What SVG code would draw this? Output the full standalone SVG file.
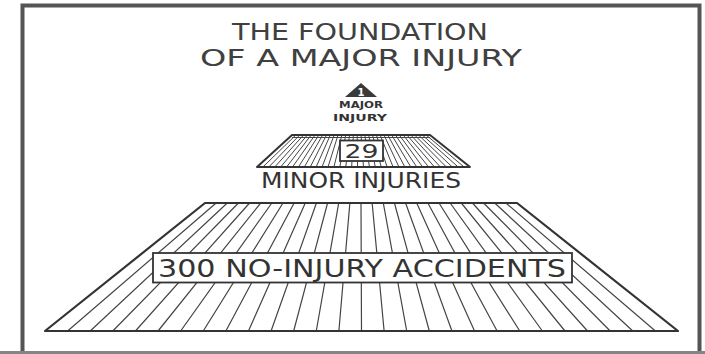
<svg xmlns="http://www.w3.org/2000/svg" width="705" height="354" viewBox="0 0 705 354">
<style>
.ink{fill:none;stroke:#333;stroke-linecap:round;stroke-linejoin:round}
.hatch{fill:none;stroke:#444;stroke-width:1.2}
.hatch2{fill:none;stroke:#444;stroke-width:1}
.lbl{font-family:"DejaVu Sans","Liberation Sans",sans-serif;fill:#333;text-anchor:middle}
.ttl{font-family:"DejaVu Sans","Liberation Sans",sans-serif;fill:#404040;text-anchor:middle;font-size:23px}
.box{fill:#fff;stroke:#333;stroke-width:1.8}
</style>
<rect width="705" height="354" fill="#fff"/>
<g id="frame">
<path d="M22.5,351 V5.5 H699.5 V351" fill="none" stroke="#555" stroke-width="4"/>
<rect x="0" y="351" width="705" height="3" fill="#858585"/>
</g>
<g id="title">
<text class="ttl" x="360" y="40" textLength="256" lengthAdjust="spacingAndGlyphs">THE FOUNDATION</text>
<text class="ttl" x="361" y="66" textLength="322" lengthAdjust="spacingAndGlyphs">OF A MAJOR INJURY</text>
</g>
<g id="node-major">
<polygon points="361,83 345,97 377,97" fill="#3a3a3a"/>
<text x="361" y="96" font-family="DejaVu Sans,sans-serif" font-size="10" font-weight="bold" fill="#fff" text-anchor="middle">1</text>
<text class="lbl" x="361" y="108" font-size="9" font-weight="bold" textLength="44" lengthAdjust="spacingAndGlyphs">MAJOR</text>
<text class="lbl" x="360" y="121" font-size="9" font-weight="bold" textLength="54" lengthAdjust="spacingAndGlyphs">INJURY</text>
</g>
<g id="node-minor">
<path class="hatch2" d="M295.83,135L262.92,167M299.67,135L268.83,167M303.5,135L274.75,167M307.33,135L280.67,167M311.17,135L286.58,167M315,135L292.5,167M318.83,135L298.42,167M322.67,135L304.33,167M326.5,135L310.25,167M330.33,135L316.17,167M334.17,135L322.08,167M338,135L328,167M341.83,135L333.92,167M345.67,135L339.83,167M349.5,135L345.75,167M353.33,135L351.67,167M357.17,135L357.58,167M361,135L363.5,167M364.83,135L369.42,167M368.67,135L375.33,167M372.5,135L381.25,167M376.33,135L387.17,167M380.17,135L393.08,167M384,135L399,167M387.83,135L404.92,167M391.67,135L410.83,167M395.5,135L416.75,167M399.33,135L422.67,167M403.17,135L428.58,167M407,135L434.5,167M410.83,135L440.42,167M414.67,135L446.33,167M418.5,135L452.25,167M422.33,135L458.17,167M426.17,135L464.08,167"/>
<polygon class="ink" points="292,135 430,135 470,167 257,167" stroke-width="2"/>
<line x1="292" y1="137.5" x2="430" y2="137.5" stroke="#444" stroke-width="1"/>
<rect class="box" x="340" y="140.5" width="43" height="20.5"/>
<text class="lbl" x="361.5" y="158" font-size="20" textLength="34" lengthAdjust="spacingAndGlyphs">29</text>
<text class="lbl" x="361" y="188" font-size="22" textLength="200" lengthAdjust="spacingAndGlyphs">MINOR INJURIES</text>
</g>
<g id="node-noinjury">
<path class="hatch" d="M216.14,203L67.61,331M227.29,203L90.21,331M238.43,203L112.82,331M249.57,203L135.43,331M260.71,203L158.04,331M271.86,203L180.64,331M283,203L203.25,331M294.14,203L225.86,331M305.29,203L248.46,331M316.43,203L271.07,331M327.57,203L293.68,331M338.71,203L316.29,331M349.86,203L338.89,331M361,203L361.5,331M372.14,203L384.11,331M383.29,203L406.71,331M394.43,203L429.32,331M405.57,203L451.93,331M416.71,203L474.54,331M427.86,203L497.14,331M439,203L519.75,331M450.14,203L542.36,331M461.29,203L564.96,331M472.43,203L587.57,331M483.57,203L610.18,331M494.71,203L632.79,331M505.86,203L655.39,331"/>
<polygon class="ink" points="205,203 517,203 678,331 45,331" stroke-width="2.2"/>
<rect class="box" x="153" y="253" width="419" height="29.5"/>
<text class="lbl" x="362" y="277" font-size="24" textLength="408" lengthAdjust="spacingAndGlyphs">300 NO-INJURY ACCIDENTS</text>
</g>
</svg>
